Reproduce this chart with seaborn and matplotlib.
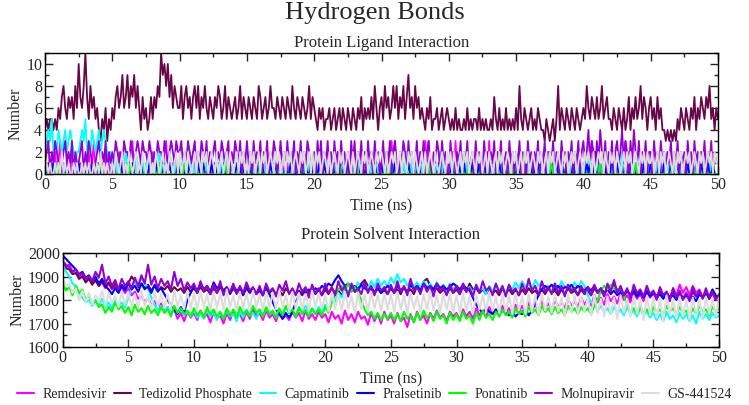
import numpy as np
import pandas as pd
import seaborn as sns
import matplotlib.pyplot as plt
from matplotlib.lines import Line2D
from matplotlib.ticker import MultipleLocator

# drug names and colours (legend order = drawing order)
drugs = ["Remdesivir", "Tedizolid Phosphate", "Capmatinib", "Pralsetinib",
         "Ponatinib", "Molnupiravir", "GS-441524"]
colors = ["#ff00ff", "#670748", "#00ffff", "#0000ff", "#00ff00", "#9400d3", "#dcdcdc"]

# protein-ligand H-bond counts, one value every 0.125 ns (digit strings, 40 chars = 5 ns)
lig_remdesivir = ("0100102013010010201001001020130100102010" "0100201001023020100101002010010230201001"
                  "1001001020010010010010010010200100100100" "0100100100102001001001001001001020010010"
                  "1001001001001020100110010010010010201001" "0100203030100102010001002030301001020100"
                  "1020301001001001010010203010010010010100" "0100100100101001001001001001001010010010"
                  "1010230201001001001010102302010010010010" "0100100100201010010001001001002010100100" "0")
lig_capmatinib = ("2343523243234234321223435232432342343212" "1020100120101021001010201001201010210010"
                  "0100102010010100100101001020100101001001" "1001001020100100101010010010201001001010"
                  "0101002010100101010001010020101001010100" "1002010100100102010010020101001001020100"
                  "0100101002010010100101001010020100101001" "1010020100101001001010100201001010010010"
                  "0102010010100100102001020100101001001020" "1001010020101001010010010100201010010100" "0")
lig_pralsetinib = ("0010010000100100010010000100100010000100" "1000010010001000010000100010000100100001"
                   "0010001000010010000101000010010000100100" "0100001001000010010000010010000100010010"
                   "0001001000010001001010010000100100001000" "1001000010010000100000100010010000100010"
                   "0010001001000010001001000100001001000100" "0100010000100100010000101002001000100200"
                   "0010100200100010020010000100100010001000" "1000010010001000100000100100001000100100" "0")
lig_ponatinib = ("0000000100000000000000000000000001000000" "0000000000010000000000000000100000000000"
                 "0001000000000000000000000001000000000000" "0000000010000000000000000000000000100000"
                 "0000000000000001000000000100000000000000" "0000100000000000000000000000010000000000"
                 "0000000000001000000000000000000000000100" "0000010000000000000001000000000000000000"
                 "0000000000100000000000000000000100000000" "0000000000000010000000000100000000000000" "0")
lig_molnupiravir = ("1230213210123121302112302132101231213021" "2132121322132123213221321213221321232132"
                    "2312132123021321302123121321230213213021" "3120312130213021320131203121302130213201"
                    "2031302130203120312020313021302031203120" "1302130231021320312013021302310213203120"
                    "0312021302130120312003120213021301203120" "2130210312021302130221302103120213021302"
                    "3124132031421302130231241320314213021302" "2031203120213021302120312031202130213021" "1")
lig_gs441524 = ("0101001010201010010100101010010102010100" "1021012010210120102101201021012010210120"
                "2012021012021021201210201201202101202120" "1021201202120121021201202120121021201202"
                "0212012102012102120121020121021201210212" "2102012120120210212021012020121021012102"
                "1202101202120121021201202101202120121021" "2012021201210212012021201210212012120121"
                "0212102012120210212021012021201210212021" "1201202120121020212012120121021201212021" "1")
lig_tedizolid = [4, 5, 4, 5, 5, 4, 5, 4,  6, 5, 7, 8, 6, 5, 7, 6,  7, 5, 8, 6, 10, 7, 6, 8,
                 11, 7, 5, 8, 6, 7, 5, 6,  4, 3, 5, 4, 6, 3, 5, 4,  6, 5, 7, 8, 6, 7, 9, 6,
                 7, 9, 6, 8, 7, 9, 6, 8,  6, 4, 7, 5, 6, 4, 5, 7,  5, 7, 6, 8, 7, 11, 9, 10,
                 8, 10, 7, 9, 6, 8, 7, 6,  6, 8, 5, 7, 8, 6, 7, 5,  7, 8, 6, 8, 5, 7, 6, 8,
                 6, 5, 7, 6, 5, 7, 6, 8,  7, 5, 6, 8, 5, 7, 6, 5,  6, 7, 5, 6, 8, 5, 7, 6,
                 5, 7, 6, 5, 7, 6, 5, 8,  7, 5, 6, 7, 5, 6, 8, 6,  6, 5, 7, 6, 5, 7, 6, 5,
                 7, 6, 5, 8, 6, 5, 7, 6,  5, 7, 6, 5, 6, 8, 5, 7,  6, 5, 4, 6, 5, 6, 4, 5,
                 5, 6, 4, 5, 6, 4, 5, 6,  4, 6, 5, 4, 6, 5, 4, 6,  5, 4, 6, 5, 7, 4, 6, 5,
                 6, 5, 7, 5, 8, 6, 4, 6,  7, 5, 8, 6, 7, 5, 6, 8,  6, 8, 5, 7, 6, 8, 5, 7,
                 9, 6, 7, 5, 8, 6, 7, 5,  6, 5, 4, 6, 5, 7, 4, 5,  5, 6, 4, 5, 6, 4, 5, 6,
                 5, 4, 5, 4, 6, 4, 5, 4,  4, 5, 4, 6, 4, 5, 4, 5,  5, 4, 6, 4, 5, 4, 5, 4,
                 4, 5, 4, 7, 5, 4, 6, 4,  5, 4, 6, 4, 5, 4, 5, 4,  6, 4, 8, 5, 4, 6, 5, 4,
                 5, 6, 4, 5, 4, 6, 5, 4,  4, 3, 5, 4, 3, 4, 5, 3,  5, 8, 4, 6, 5, 4, 6, 5,
                 4, 6, 5, 4, 6, 5, 4, 5,  6, 5, 8, 6, 5, 7, 6, 5,  7, 5, 6, 8, 5, 6, 7, 5,
                 5, 4, 6, 5, 4, 6, 5, 4,  6, 4, 5, 7, 4, 6, 5, 7,  5, 6, 8, 5, 7, 6, 4, 6,
                 7, 5, 6, 4, 7, 5, 6, 4,  4, 3, 4, 3, 4, 3, 4, 3,  5, 4, 6, 5, 4, 6, 5, 4,
                 6, 5, 7, 4, 6, 5, 7, 6,  5, 7, 6, 8, 5, 6, 4, 6,  5]

# protein-solvent H-bond counts, one value every 0.25 ns (20 values = 5 ns)
sol_remdesivir = [1960, 1940, 1950, 1920, 1930, 1900, 1910, 1880, 1895, 1870, 1885, 1860, 1875, 1850, 1870, 1845, 1860, 1835, 1855, 1830,
                  1850, 1820, 1835, 1805, 1820, 1790, 1810, 1780, 1795, 1765, 1785, 1755, 1770, 1740, 1760, 1720, 1745, 1710, 1750, 1725,
                  1745, 1715, 1755, 1725, 1740, 1705, 1750, 1720, 1735, 1700, 1745, 1715, 1755, 1725, 1740, 1710, 1750, 1720, 1760, 1730,
                  1745, 1715, 1755, 1725, 1740, 1710, 1750, 1720, 1735, 1715, 1750, 1725, 1745, 1710, 1755, 1720, 1740, 1715, 1750, 1725,
                  1740, 1705, 1750, 1720, 1735, 1700, 1755, 1715, 1740, 1705, 1750, 1720, 1730, 1695, 1745, 1710, 1740, 1700, 1750, 1715,
                  1735, 1700, 1745, 1710, 1725, 1685, 1740, 1705, 1750, 1715, 1735, 1700, 1745, 1720, 1755, 1725, 1740, 1710, 1750, 1730,
                  1745, 1715, 1760, 1730, 1750, 1720, 1765, 1735, 1755, 1725, 1770, 1740, 1760, 1730, 1775, 1745, 1765, 1740, 1780, 1750,
                  1775, 1745, 1790, 1760, 1780, 1755, 1795, 1765, 1785, 1760, 1800, 1770, 1790, 1765, 1805, 1775, 1795, 1770, 1810, 1780,
                  1805, 1775, 1820, 1790, 1810, 1780, 1825, 1795, 1815, 1785, 1830, 1800, 1820, 1790, 1835, 1805, 1825, 1795, 1840, 1810,
                  1830, 1800, 1845, 1815, 1835, 1805, 1850, 1820, 1865, 1830, 1855, 1820, 1860, 1830, 1845, 1810, 1840, 1805, 1830, 1800, 1820]
sol_tedizolid = [1950, 1935, 1930, 1910, 1915, 1890, 1900, 1875, 1890, 1865, 1885, 1860, 1880, 1855, 1875, 1850, 1870, 1845, 1865, 1850,
                 1870, 1900, 1880, 1855, 1870, 1845, 1865, 1840, 1860, 1835, 1855, 1845, 1860, 1835, 1855, 1840, 1850, 1830, 1855, 1835,
                 1850, 1830, 1855, 1835, 1845, 1825, 1850, 1830, 1855, 1835, 1845, 1825, 1850, 1830, 1840, 1820, 1850, 1830, 1845, 1825,
                 1840, 1820, 1850, 1830, 1845, 1825, 1840, 1820, 1850, 1830, 1845, 1825, 1840, 1820, 1850, 1830, 1845, 1825, 1840, 1820,
                 1845, 1825, 1850, 1830, 1840, 1820, 1850, 1830, 1855, 1835, 1845, 1870, 1885, 1860, 1845, 1825, 1850, 1830, 1840, 1825,
                 1850, 1830, 1845, 1825, 1855, 1835, 1845, 1825, 1860, 1840, 1880, 1890, 1860, 1840, 1850, 1830, 1845, 1825, 1850, 1830,
                 1845, 1825, 1855, 1835, 1870, 1845, 1850, 1830, 1845, 1825, 1850, 1830, 1840, 1820, 1850, 1830, 1845, 1825, 1840, 1820,
                 1845, 1825, 1850, 1830, 1840, 1820, 1845, 1825, 1850, 1830, 1840, 1820, 1845, 1825, 1850, 1830, 1840, 1820, 1845, 1825,
                 1840, 1820, 1850, 1830, 1840, 1820, 1855, 1845, 1870, 1840, 1845, 1825, 1840, 1820, 1845, 1825, 1835, 1815, 1840, 1820,
                 1835, 1815, 1840, 1820, 1830, 1810, 1835, 1815, 1830, 1810, 1825, 1805, 1835, 1815, 1830, 1810, 1825, 1805, 1830, 1810, 1820]
sol_capmatinib = [1950, 1920, 1900, 1870, 1860, 1830, 1810, 1790, 1800, 1775, 1795, 1780, 1805, 1770, 1790, 1765, 1800, 1775, 1790, 1770,
                  1810, 1850, 1880, 1860, 1895, 1870, 1850, 1810, 1780, 1755, 1775, 1750, 1770, 1745, 1765, 1740, 1760, 1735, 1750, 1730,
                  1755, 1725, 1745, 1720, 1760, 1730, 1750, 1715, 1745, 1720, 1755, 1730, 1740, 1710, 1750, 1725, 1760, 1735, 1745, 1720,
                  1755, 1730, 1765, 1740, 1750, 1725, 1760, 1735, 1770, 1745, 1755, 1730, 1765, 1745, 1775, 1750, 1760, 1740, 1770, 1750,
                  1780, 1760, 1800, 1790, 1830, 1810, 1850, 1830, 1865, 1840, 1875, 1850, 1870, 1845, 1880, 1855, 1890, 1860, 1880, 1855,
                  1895, 1870, 1910, 1875, 1890, 1860, 1885, 1855, 1875, 1850, 1880, 1855, 1870, 1845, 1875, 1850, 1865, 1840, 1870, 1845,
                  1860, 1835, 1870, 1840, 1855, 1830, 1865, 1840, 1850, 1825, 1860, 1835, 1870, 1840, 1855, 1830, 1865, 1845, 1875, 1850,
                  1880, 1855, 1870, 1845, 1885, 1860, 1875, 1850, 1860, 1835, 1870, 1845, 1880, 1855, 1865, 1840, 1875, 1850, 1880, 1860,
                  1820, 1790, 1780, 1755, 1775, 1750, 1765, 1740, 1770, 1745, 1760, 1735, 1770, 1740, 1755, 1730, 1765, 1735, 1750, 1725,
                  1745, 1715, 1740, 1710, 1750, 1720, 1735, 1705, 1745, 1720, 1740, 1710, 1735, 1700, 1750, 1720, 1740, 1715, 1745, 1725, 1735]
sol_pralsetinib = [1990, 1975, 1960, 1945, 1930, 1910, 1920, 1895, 1905, 1880, 1900, 1870, 1890, 1860, 1845, 1825, 1850, 1830, 1860, 1840,
                   1870, 1845, 1860, 1835, 1870, 1850, 1855, 1830, 1865, 1840, 1850, 1825, 1800, 1775, 1760, 1740, 1770, 1745, 1800, 1830,
                   1860, 1840, 1870, 1845, 1860, 1835, 1875, 1850, 1865, 1840, 1855, 1830, 1860, 1840, 1850, 1825, 1860, 1835, 1850, 1830,
                   1845, 1820, 1850, 1825, 1790, 1760, 1740, 1720, 1745, 1725, 1750, 1790, 1820, 1840, 1830, 1845, 1835, 1850, 1840, 1860,
                   1850, 1870, 1860, 1885, 1905, 1880, 1860, 1870, 1850, 1860, 1845, 1865, 1850, 1840, 1855, 1835, 1850, 1830, 1845, 1860,
                   1850, 1835, 1860, 1840, 1855, 1830, 1865, 1845, 1860, 1840, 1870, 1850, 1860, 1845, 1870, 1850, 1860, 1845, 1855, 1870,
                   1860, 1845, 1865, 1850, 1840, 1810, 1780, 1760, 1745, 1765, 1750, 1740, 1760, 1735, 1755, 1745, 1735, 1750, 1730, 1745,
                   1740, 1760, 1735, 1755, 1790, 1820, 1845, 1860, 1850, 1865, 1845, 1860, 1840, 1855, 1850, 1865, 1845, 1860, 1850, 1840,
                   1855, 1840, 1860, 1835, 1850, 1830, 1845, 1825, 1840, 1820, 1835, 1815, 1840, 1820, 1835, 1815, 1830, 1810, 1835, 1815,
                   1830, 1810, 1825, 1805, 1830, 1810, 1820, 1800, 1825, 1805, 1820, 1800, 1815, 1795, 1825, 1810, 1830, 1815, 1845, 1820, 1810]
sol_ponatinib = [1870, 1840, 1855, 1820, 1860, 1830, 1845, 1800, 1820, 1785, 1800, 1770, 1780, 1745, 1770, 1750, 1790, 1760, 1775, 1745,
                 1770, 1735, 1780, 1750, 1765, 1740, 1775, 1745, 1760, 1735, 1770, 1745, 1760, 1730, 1775, 1745, 1765, 1740, 1755, 1730,
                 1765, 1735, 1755, 1725, 1770, 1740, 1760, 1730, 1750, 1720, 1765, 1735, 1760, 1725, 1770, 1740, 1755, 1730, 1775, 1745,
                 1760, 1730, 1770, 1740, 1755, 1725, 1765, 1735, 1775, 1745, 1760, 1730, 1770, 1740, 1755, 1730, 1765, 1740, 1760, 1735,
                 1770, 1745, 1790, 1820, 1845, 1860, 1840, 1870, 1835, 1855, 1830, 1800, 1760, 1735, 1750, 1720, 1745, 1715, 1740, 1720,
                 1745, 1715, 1740, 1710, 1750, 1720, 1735, 1705, 1745, 1715, 1755, 1725, 1740, 1710, 1750, 1720, 1735, 1700, 1745, 1715,
                 1740, 1710, 1750, 1720, 1735, 1700, 1745, 1715, 1755, 1725, 1740, 1715, 1750, 1730, 1760, 1735, 1750, 1725, 1765, 1740,
                 1755, 1730, 1770, 1745, 1760, 1735, 1775, 1750, 1765, 1740, 1770, 1745, 1760, 1735, 1775, 1750, 1765, 1740, 1770, 1750,
                 1765, 1740, 1775, 1800, 1840, 1860, 1845, 1865, 1850, 1835, 1855, 1820, 1780, 1750, 1765, 1740, 1770, 1745, 1760, 1735,
                 1770, 1745, 1760, 1735, 1775, 1750, 1765, 1740, 1770, 1745, 1755, 1730, 1765, 1740, 1775, 1750, 1760, 1735, 1770, 1750, 1765]
sol_molnupiravir = [1965, 1950, 1940, 1920, 1930, 1905, 1915, 1890, 1900, 1880, 1920, 1895, 1950, 1870, 1900, 1860, 1885, 1845, 1890, 1860,
                    1880, 1850, 1895, 1860, 1905, 1870, 1950, 1865, 1900, 1850, 1890, 1860, 1880, 1845, 1920, 1860, 1890, 1840, 1875, 1850,
                    1870, 1830, 1880, 1840, 1860, 1825, 1865, 1830, 1880, 1820, 1850, 1835, 1870, 1825, 1860, 1830, 1875, 1840, 1855, 1825,
                    1860, 1820, 1870, 1835, 1850, 1815, 1865, 1840, 1880, 1825, 1850, 1820, 1870, 1835, 1855, 1810, 1865, 1830, 1850, 1820,
                    1870, 1830, 1855, 1820, 1880, 1840, 1860, 1815, 1870, 1835, 1850, 1825, 1875, 1830, 1860, 1820, 1870, 1840, 1855, 1825,
                    1865, 1830, 1880, 1835, 1860, 1820, 1890, 1840, 1855, 1825, 1870, 1835, 1860, 1815, 1870, 1840, 1855, 1820, 1865, 1830,
                    1860, 1825, 1870, 1835, 1850, 1815, 1865, 1830, 1880, 1840, 1855, 1820, 1870, 1830, 1860, 1815, 1865, 1835, 1850, 1820,
                    1870, 1830, 1890, 1840, 1860, 1820, 1880, 1835, 1855, 1825, 1870, 1830, 1860, 1815, 1865, 1840, 1850, 1820, 1860, 1830,
                    1855, 1820, 1865, 1830, 1850, 1815, 1870, 1835, 1885, 1830, 1860, 1820, 1850, 1805, 1865, 1830, 1845, 1815, 1860, 1825,
                    1840, 1805, 1855, 1820, 1835, 1795, 1850, 1810, 1840, 1800, 1830, 1795, 1855, 1815, 1840, 1805, 1850, 1810, 1835, 1800, 1825]
sol_gs441524 = [1890, 1860, 1870, 1830, 1850, 1800, 1840, 1790, 1830, 1780, 1820, 1790, 1840, 1775, 1830, 1785, 1820, 1770, 1835, 1780,
                1830, 1770, 1825, 1765, 1840, 1775, 1820, 1760, 1835, 1770, 1830, 1765, 1825, 1760, 1840, 1770, 1820, 1760, 1835, 1765,
                1830, 1760, 1840, 1770, 1825, 1755, 1835, 1765, 1830, 1760, 1845, 1770, 1820, 1755, 1835, 1765, 1830, 1760, 1840, 1770,
                1825, 1755, 1835, 1765, 1830, 1760, 1840, 1770, 1820, 1750, 1835, 1765, 1830, 1760, 1825, 1755, 1840, 1770, 1830, 1760,
                1820, 1750, 1830, 1760, 1825, 1755, 1835, 1765, 1815, 1745, 1830, 1760, 1825, 1750, 1835, 1765, 1820, 1755, 1830, 1760,
                1825, 1750, 1835, 1760, 1820, 1745, 1830, 1765, 1815, 1750, 1825, 1760, 1835, 1755, 1820, 1745, 1830, 1760, 1825, 1750,
                1820, 1745, 1830, 1755, 1815, 1740, 1825, 1760, 1820, 1750, 1830, 1755, 1815, 1745, 1825, 1750, 1820, 1740, 1830, 1755,
                1815, 1740, 1825, 1750, 1820, 1735, 1830, 1755, 1815, 1745, 1825, 1750, 1810, 1730, 1825, 1745, 1820, 1740, 1815, 1750,
                1810, 1735, 1820, 1745, 1805, 1730, 1815, 1740, 1810, 1720, 1820, 1745, 1805, 1730, 1815, 1740, 1800, 1715, 1815, 1735,
                1810, 1725, 1805, 1710, 1820, 1740, 1800, 1720, 1815, 1730, 1805, 1715, 1810, 1735, 1800, 1720, 1815, 1740, 1805, 1730, 1810]

ligand = [lig_remdesivir, lig_tedizolid, lig_capmatinib, lig_pralsetinib,
          lig_ponatinib, lig_molnupiravir, lig_gs441524]
solvent = [sol_remdesivir, sol_tedizolid, sol_capmatinib, sol_pralsetinib,
           sol_ponatinib, sol_molnupiravir, sol_gs441524]


def make_frame(series_list):
    frames = []
    for name, vals in zip(drugs, series_list):
        vals = [int(v) for v in vals]
        frames.append(pd.DataFrame({"time": np.linspace(0, 50, len(vals)),
                                    "value": vals, "drug": name}))
    return pd.concat(frames, ignore_index=True)


sns.set_style("ticks")
plt.rcParams["font.family"] = ["Liberation Serif", "DejaVu Serif"]
palette = dict(zip(drugs, colors))

fig = plt.figure(figsize=(7.49, 4.05), dpi=100)
ax1 = fig.add_axes([0.0601, 0.5704, 0.8985, 0.2988])
ax2 = fig.add_axes([0.0837, 0.1432, 0.8763, 0.2321])

sns.lineplot(data=make_frame(ligand), x="time", y="value", hue="drug", hue_order=drugs,
             palette=palette, estimator=None, sort=False, legend=False, linewidth=1.3, ax=ax1)
sns.lineplot(data=make_frame(solvent), x="time", y="value", hue="drug", hue_order=drugs,
             palette=palette, estimator=None, sort=False, legend=False, linewidth=1.5, ax=ax2)

ax1.set_xlim(0, 50)
ax1.set_ylim(0, 11)
ax1.yaxis.set_major_locator(MultipleLocator(2))
ax1.yaxis.set_minor_locator(MultipleLocator(1))
ax2.set_xlim(0, 50)
ax2.set_ylim(1600, 2000)
ax2.yaxis.set_major_locator(MultipleLocator(100))
ax2.yaxis.set_minor_locator(MultipleLocator(50))

for ax, sub, tpad in [(ax1, "Protein Ligand Interaction", 4), (ax2, "Protein Solvent Interaction", 10)]:
    ax.xaxis.set_major_locator(MultipleLocator(5))
    ax.xaxis.set_minor_locator(MultipleLocator(2.5))
    ax.tick_params(which="both", direction="in", top=True, right=True,
                   labelsize=11.5, width=1, pad=2)
    ax.tick_params(which="major", length=6)
    ax.tick_params(which="minor", length=3)
    ax.set_xlabel("Time (ns)", fontsize=11.5, labelpad=4)
    ax.set_ylabel("Number", fontsize=11.5, labelpad=2)
    ax.set_title(sub, fontsize=12, pad=tpad)
    for s in ax.spines.values():
        s.set_linewidth(1)
        s.set_color("black")

fig.suptitle("Hydrogen Bonds", fontsize=19, y=0.995)

handles = [Line2D([0], [0], color=c, lw=1.5) for c in colors]
fig.legend(handles, drugs, loc="center", ncol=7, frameon=False, fontsize=10,
           handlelength=1.2, handletextpad=0.6, columnspacing=0.55,
           borderaxespad=0, borderpad=0, bbox_to_anchor=(0.5, 0.027))

fig.savefig("out.png", dpi=100)
